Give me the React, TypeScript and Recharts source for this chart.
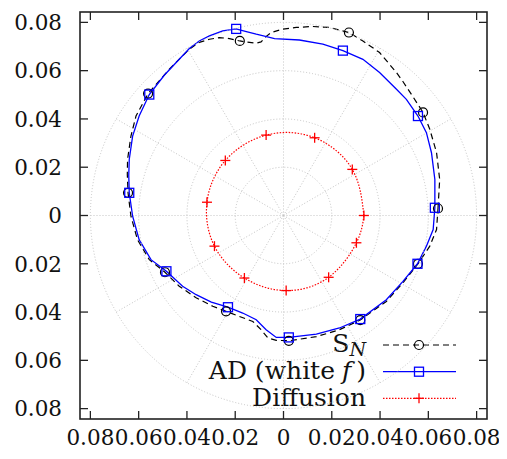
import React from 'react';
import { ComposedChart, Line, XAxis, YAxis, ReferenceDot, ReferenceLine, Customized } from 'recharts';

// ---------- data ----------
const TICKS = [-0.08, -0.06, -0.04, -0.02, 0, 0.02, 0.04, 0.06, 0.08];
const GRID_RADII = [0.02, 0.04, 0.06, 0.08];
const GRID_ANGLES = [0, 30, 60, 90, 120, 150, 180, 210, 240, 270, 300, 330];

const SN_X = [0.0640, 0.0647, 0.0634, 0.0606, 0.0578, 0.0535, 0.0494, 0.0468, 0.0398, 0.0329, 0.0271, 0.0191, 0.0122, 0.0053, -0.0003, -0.0051, -0.0075, -0.0093, -0.0113, -0.0155, -0.0181, -0.0224, -0.0266, -0.0307, -0.0349, -0.0390, -0.0473, -0.0561, -0.0611, -0.0632, -0.0646, -0.0647, -0.0644, -0.0632, -0.0605, -0.0556, -0.0491, -0.0432, -0.0362, -0.0293, -0.0238, -0.0183, -0.0127, -0.0093, -0.0065, -0.0030, 0.0022, 0.0136, 0.0232, 0.0318, 0.0426, 0.0495, 0.0557, 0.0606, 0.0634];
const SN_Y = [0.0029, 0.0149, 0.0261, 0.0357, 0.0427, 0.0494, 0.0556, 0.0592, 0.0675, 0.0723, 0.0758, 0.0779, 0.0783, 0.0779, 0.0772, 0.0758, 0.0739, 0.0719, 0.0714, 0.0719, 0.0723, 0.0733, 0.0737, 0.0730, 0.0717, 0.0689, 0.0606, 0.0505, 0.0412, 0.0329, 0.0232, 0.0170, 0.0094, -0.0003, -0.0100, -0.0183, -0.0235, -0.0293, -0.0341, -0.0376, -0.0397, -0.0418, -0.0439, -0.0473, -0.0507, -0.0517, -0.0519, -0.0502, -0.0473, -0.0433, -0.0356, -0.0279, -0.0200, -0.0127, -0.0058];
const SN_MARKERS = [0, 4, 10, 20, 27, 32, 36, 40, 46, 49, 52];

const AD_X = [0.0627, 0.0627, 0.0613, 0.0592, 0.0557, 0.0509, 0.0468, 0.0398, 0.0329, 0.0246, 0.0163, 0.0066, -0.0037, -0.0079, -0.0113, -0.0158, -0.0196, -0.0252, -0.0307, -0.0349, -0.0390, -0.0432, -0.0494, -0.0556, -0.0598, -0.0625, -0.0639, -0.0641, -0.0639, -0.0625, -0.0598, -0.0549, -0.0485, -0.0418, -0.0362, -0.0299, -0.0230, -0.0169, -0.0113, -0.0072, -0.0030, 0.0022, 0.0136, 0.0232, 0.0318, 0.0426, 0.0494, 0.0555, 0.0592, 0.0620];
const AD_Y = [0.0032, 0.0149, 0.0260, 0.0343, 0.0412, 0.0481, 0.0523, 0.0592, 0.0647, 0.0683, 0.0710, 0.0727, 0.0733, 0.0743, 0.0751, 0.0763, 0.0773, 0.0765, 0.0744, 0.0723, 0.0692, 0.0647, 0.0581, 0.0501, 0.0412, 0.0329, 0.0232, 0.0166, 0.0094, -0.0003, -0.0100, -0.0183, -0.0231, -0.0293, -0.0328, -0.0359, -0.0380, -0.0404, -0.0432, -0.0473, -0.0505, -0.0505, -0.0491, -0.0466, -0.0429, -0.0349, -0.0274, -0.0200, -0.0127, -0.0058];
const AD_MARKERS = [0, 4, 9, 16, 23, 28, 32, 36, 41, 44, 47];

const DIF_X = [0.0333, 0.0285, 0.0129, -0.0072, -0.0241, -0.0317, -0.0286, -0.0162, 0.0011, 0.0187, 0.0302];
const DIF_Y = [0.0000, 0.0191, 0.0322, 0.0333, 0.0228, 0.0055, -0.0127, -0.0259, -0.0311, -0.0256, -0.0113];
const DIF_MARKERS = [0, 1, 2, 3, 4, 5, 6, 7, 8, 9, 10];

// ---------- layout / style ----------
const W = 499;
const H = 451;
const PL = 72;   // plot left (svg)
const PT = 4;    // plot top (svg)
const PS = 407;  // plot size (square)
const LIM = 0.0843;
const PX = PS / (2 * LIM);
const FONT = 'DejaVu Serif';
const TICK_FONT = 21.5;
const LEG_FONT = 25;
const GRID_COLOR = '#c4c4c4';

const closed = (xs: number[], ys: number[]) => {
  const pts = xs.map((x, i) => ({ x, y: ys[i] }));
  return [...pts, pts[0]];
};
const SN = closed(SN_X, SN_Y);
const AD = closed(AD_X, AD_Y);
const DIF = closed(DIF_X, DIF_Y);

const fmt = (v: number) => (Math.abs(v) < 1e-9 ? '0' : Math.abs(v).toFixed(2));

const CircleMark = ({ cx, cy }: { cx: number; cy: number }) => (
  <circle cx={cx} cy={cy} r={4.5} fill="none" stroke="#000" strokeWidth={1.2} />
);
const SquareMark = ({ cx, cy }: { cx: number; cy: number }) => (
  <rect x={cx - 4.5} y={cy - 4.5} width={9} height={9} fill="none" stroke="#0000ff" strokeWidth={1.3} />
);
const PlusMark = ({ cx, cy }: { cx: number; cy: number }) => (
  <g stroke="#ff0000" strokeWidth={1.3}>
    <line x1={cx - 5} x2={cx + 5} y1={cy} y2={cy} />
    <line x1={cx} x2={cx} y1={cy - 5} y2={cy + 5} />
  </g>
);

const makeDot = (markers: number[], Mark: any) => (props: any) => {
  const { cx, cy, index } = props;
  if (!markers.includes(index)) return <g key={`d${index}`} />;
  return <Mark key={`d${index}`} cx={cx} cy={cy} />;
};

const XTick = (props: any) => {
  const { x, payload } = props;
  return (
    <g>
      <line x1={x} x2={x} y1={PT + PS} y2={PT + PS - 8} stroke="#222" strokeWidth={1.3} />
      <line x1={x} x2={x} y1={PT} y2={PT + 8} stroke="#222" strokeWidth={1.3} />
      <text x={x} y={437} textAnchor="middle" style={{ fontFamily: FONT }} fontSize={TICK_FONT} fill="#111">
        {fmt(payload.value)}
      </text>
    </g>
  );
};

const YTick = (props: any) => {
  const { y, payload } = props;
  return (
    <g>
      <line x1={PL} x2={PL + 8} y1={y} y2={y} stroke="#222" strokeWidth={1.3} />
      <line x1={PL + PS} x2={PL + PS - 8} y1={y} y2={y} stroke="#222" strokeWidth={1.3} />
      <text x={54} y={y + 7.8} textAnchor="end" style={{ fontFamily: FONT }} fontSize={TICK_FONT} fill="#111">
        {fmt(payload.value)}
      </text>
    </g>
  );
};

const Frame = () => (
  <rect x={PL} y={PT} width={PS} height={PS} fill="none" stroke="#222" strokeWidth={1.6} />
);

const LegendLayer = () => {
  const tx = 358;
  const lx1 = 375;
  const lx2 = 448;
  const mx = 411;
  return (
    <g style={{ fontFamily: FONT }} fontSize={LEG_FONT} fill="#111">
      <text x={tx} y={344} textAnchor="end">
        <tspan>S</tspan>
        <tspan fontStyle="italic" fontSize={19} dy={4}>N</tspan>
      </text>
      <line x1={lx1} x2={lx2} y1={337} y2={337} stroke="#000" strokeWidth={1.2} strokeDasharray="6 4" />
      <CircleMark cx={mx} cy={337} />

      <text x={tx} y={371.3} textAnchor="end">
        <tspan>AD (white</tspan>
        <tspan fontStyle="italic" dx={7}>f</tspan>
        <tspan dx={5}>)</tspan>
      </text>
      <line x1={lx1} x2={lx2} y1={363.7} y2={363.7} stroke="#0000ff" strokeWidth={1.3} />
      <SquareMark cx={mx} cy={363.7} />

      <text x={tx} y={397.7} textAnchor="end">Diffusion</text>
      <line x1={lx1} x2={lx2} y1={390.3} y2={390.3} stroke="#ff0000" strokeWidth={1.2} strokeDasharray="1.5 1.5" />
      <PlusMark cx={mx} cy={390.3} />
    </g>
  );
};

export default function App() {
  return (
    <ComposedChart width={W} height={H} margin={{ top: PT, right: W - PL - PS, bottom: 0, left: 0 }}>
      <XAxis
        type="number"
        dataKey="x"
        domain={[-LIM, LIM]}
        ticks={TICKS}
        interval={0}
        allowDataOverflow
        height={H - PT - PS}
        axisLine={false}
        tickLine={false}
        tickSize={0}
        tickMargin={0}
        tick={<XTick />}
      />
      <YAxis
        type="number"
        dataKey="y"
        domain={[-LIM, LIM]}
        ticks={TICKS}
        interval={0}
        allowDataOverflow
        width={PL}
        axisLine={false}
        tickLine={false}
        tickSize={0}
        tickMargin={0}
        tick={<YTick />}
      />
      {GRID_RADII.map((r) => (
        <ReferenceDot
          key={`c${r}`}
          x={0}
          y={0}
          r={r * PX}
          fill="none"
          stroke={GRID_COLOR}
          strokeWidth={1}
          strokeDasharray="1 2"
        />
      ))}
      {GRID_ANGLES.map((a) => (
        <ReferenceLine
          key={`a${a}`}
          segment={[
            { x: 0, y: 0 },
            { x: 0.08 * Math.cos((a * Math.PI) / 180), y: 0.08 * Math.sin((a * Math.PI) / 180) },
          ]}
          stroke={GRID_COLOR}
          strokeWidth={1}
          strokeDasharray="1 2"
        />
      ))}
      <Line
        data={SN}
        dataKey="y"
        type="linear"
        stroke="#000"
        strokeWidth={1.2}
        strokeDasharray="6 4"
        dot={makeDot(SN_MARKERS, CircleMark)}
        activeDot={false}
        isAnimationActive={false}
      />
      <Line
        data={AD}
        dataKey="y"
        type="linear"
        stroke="#0000ff"
        strokeWidth={1.3}
        dot={makeDot(AD_MARKERS, SquareMark)}
        activeDot={false}
        isAnimationActive={false}
      />
      <Line
        data={DIF}
        dataKey="y"
        type="natural"
        stroke="#ff0000"
        strokeWidth={1.2}
        strokeDasharray="1.5 1.5"
        dot={makeDot(DIF_MARKERS, PlusMark)}
        activeDot={false}
        isAnimationActive={false}
      />
      <Customized component={Frame} />
      <Customized component={LegendLayer} />
    </ComposedChart>
  );
}
